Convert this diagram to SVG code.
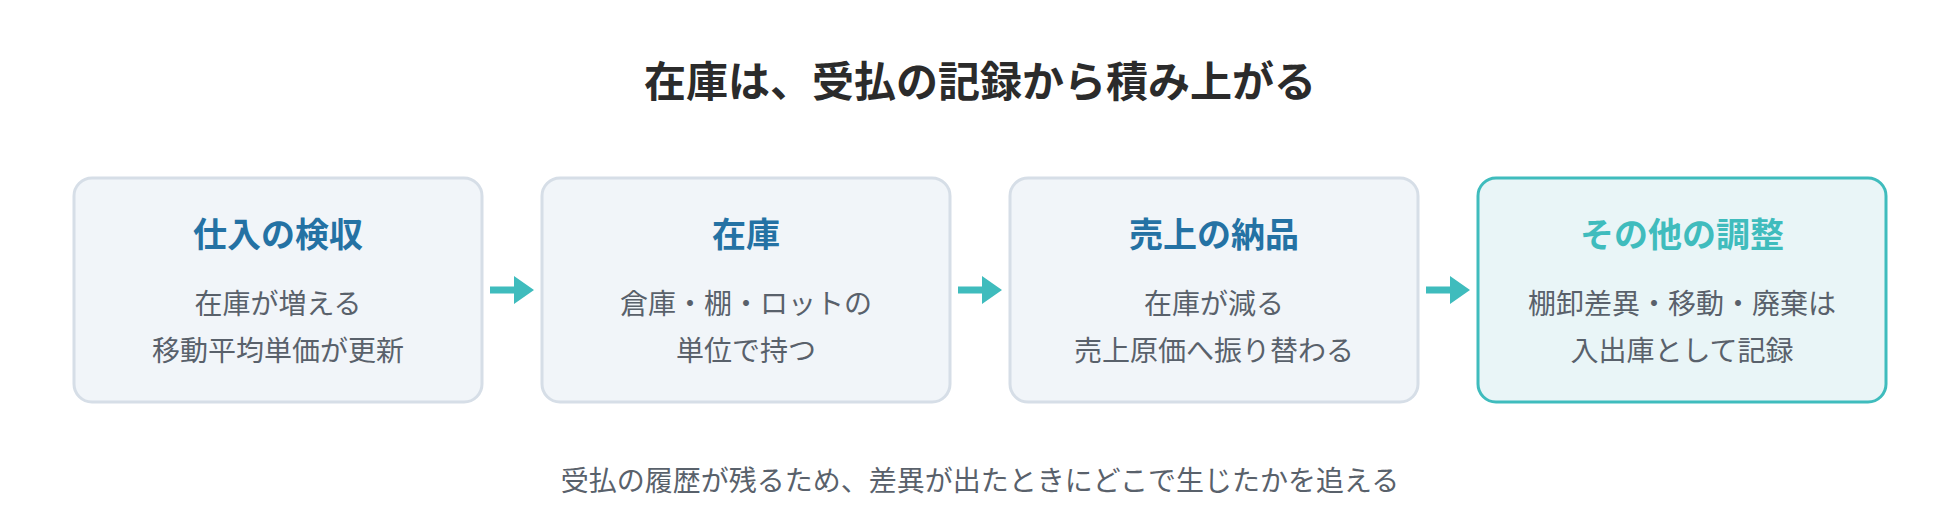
<svg xmlns="http://www.w3.org/2000/svg" width="1960" height="528" viewBox="0 0 1960 528">
<defs>
<style>
text{font-family:"Noto Sans CJK JP","Noto Sans",sans-serif;text-anchor:middle}
.title{font-size:42px;font-weight:700;fill:#2b2b2b}
.box{fill:#f1f5f9;stroke:#d6dee7;stroke-width:3}
.box.hl{fill:#e9f5f7;stroke:#3fbcbd}
.h{font-size:34px;font-weight:700;fill:#2472a4}
.h.hl{fill:#3fbcbd}
.b{font-size:28px;fill:#59616b}
.foot{font-size:28px;fill:#59616b}
.arrow{fill:#3fbcbd}
</style>
</defs>
<rect width="1960" height="528" fill="#ffffff"/>
<text class="title" x="980" y="97">在庫は、受払の記録から積み上がる</text>
<g id="node1">
<rect class="box" x="74" y="178" width="408" height="224" rx="18"/>
<text class="h" x="278" y="247">仕入の検収</text>
<text class="b" x="278" y="314">在庫が増える</text>
<text class="b" x="278" y="361">移動平均単価が更新</text>
</g>
<g id="node2">
<rect class="box" x="542" y="178" width="408" height="224" rx="18"/>
<text class="h" x="746" y="247">在庫</text>
<text class="b" x="746" y="314">倉庫・棚・ロットの</text>
<text class="b" x="746" y="361">単位で持つ</text>
</g>
<g id="node3">
<rect class="box" x="1010" y="178" width="408" height="224" rx="18"/>
<text class="h" x="1214" y="247">売上の納品</text>
<text class="b" x="1214" y="314">在庫が減る</text>
<text class="b" x="1214" y="361">売上原価へ振り替わる</text>
</g>
<g id="node4">
<rect class="box hl" x="1478" y="178" width="408" height="224" rx="18"/>
<text class="h hl" x="1682" y="247">その他の調整</text>
<text class="b" x="1682" y="314">棚卸差異・移動・廃棄は</text>
<text class="b" x="1682" y="361">入出庫として記録</text>
</g>
<g id="connectors">
<path class="arrow" d="M490 286.5H514V276L534 290L514 304V293.5H490Z"/>
<path class="arrow" d="M958 286.5H982V276L1002 290L982 304V293.5H958Z"/>
<path class="arrow" d="M1426 286.5H1450V276L1470 290L1450 304V293.5H1426Z"/>
</g>
<text class="foot" x="980" y="491">受払の履歴が残るため、差異が出たときにどこで生じたかを追える</text>
</svg>
